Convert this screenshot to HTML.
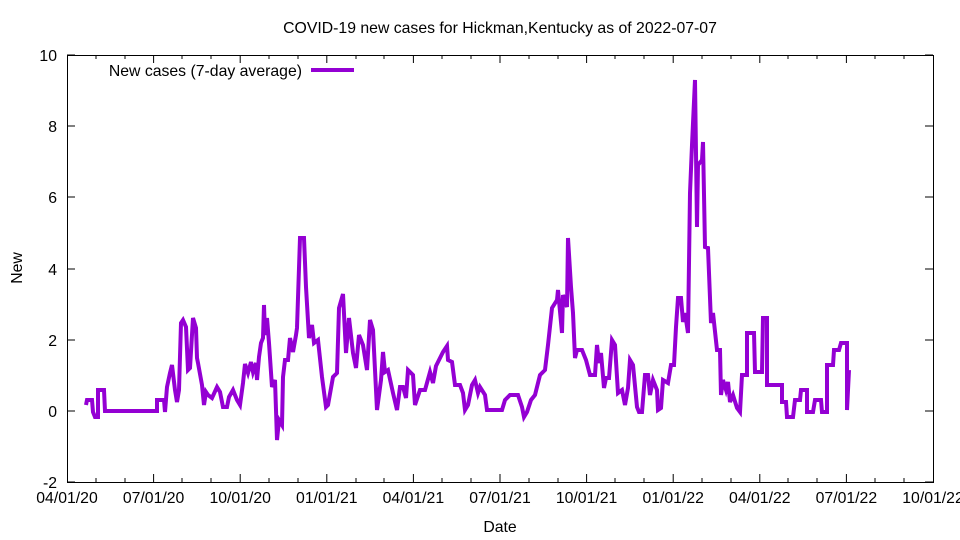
<!DOCTYPE html>
<html><head><meta charset="utf-8"><style>body{margin:0;background:#fff}svg{display:block}text{font-family:"Liberation Sans",sans-serif;font-size:15.8px;fill:#000}</style></head><body>
<svg width="960" height="540" xmlns="http://www.w3.org/2000/svg">
<rect width="960" height="540" fill="#fff"/>
<text x="500" y="33" text-anchor="middle">COVID-19 new cases for Hickman,Kentucky as of 2022-07-07</text>
<g stroke="#000" stroke-width="1" fill="none">
<rect x="67.5" y="55.5" width="866" height="427"/>
<path d="M67 411h8M925 411h8M67 340h8M925 340h8M67 269h8M925 269h8M67 197h8M925 197h8M67 126h8M925 126h8M67 482h8M925 482h8M67 55h8M925 55h8"/>
<path d="M153.6 482v-8M240.2 482v-8M326.8 482v-8M413.4 482v-8M500 482v-8M586.6 482v-8M673.2 482v-8M759.8 482v-8M846.4 482v-8M153.6 55v8M240.2 55v8M326.8 55v8M413.4 55v8M500 55v8M586.6 55v8M673.2 55v8M759.8 55v8M846.4 55v8"/>
<path d="M96 482v-4M125 482v-4M182 482v-4M211 482v-4M269 482v-4M298 482v-4M356 482v-4M384 482v-4M442 482v-4M471 482v-4M529 482v-4M558 482v-4M615 482v-4M644 482v-4M702 482v-4M731 482v-4M788 482v-4M817 482v-4M875 482v-4M904 482v-4M96 55v4M125 55v4M182 55v4M211 55v4M269 55v4M298 55v4M356 55v4M384 55v4M442 55v4M471 55v4M529 55v4M558 55v4M615 55v4M644 55v4M702 55v4M731 55v4M788 55v4M817 55v4M875 55v4M904 55v4"/>
</g>
<g text-anchor="end">
<text x="57" y="417">0</text><text x="57" y="346">2</text><text x="57" y="275">4</text><text x="57" y="203">6</text><text x="57" y="132">8</text><text x="57" y="61">10</text><text x="57" y="488">-2</text>
</g>
<g text-anchor="middle">
<text x="67" y="503">04/01/20</text><text x="153.6" y="503">07/01/20</text><text x="240.2" y="503">10/01/20</text><text x="326.8" y="503">01/01/21</text><text x="413.4" y="503">04/01/21</text><text x="500" y="503">07/01/21</text><text x="586.6" y="503">10/01/21</text><text x="673.2" y="503">01/01/22</text><text x="759.8" y="503">04/01/22</text><text x="846.4" y="503">07/01/22</text><text x="933" y="503">10/01/22</text>
<text x="500" y="532">Date</text>
</g>
<text x="0" y="0" text-anchor="middle" transform="translate(22,268) rotate(-90)">New</text>
<text x="302" y="76" text-anchor="end">New cases (7-day average)</text>
<line x1="311" y1="70" x2="354" y2="70" stroke="#9400d3" stroke-width="4"/>
<polyline fill="none" stroke="#9400d3" stroke-width="4" stroke-linejoin="miter" points="86,405 87,400 92,400 93,412 95,417 98,417 98,390 104,390 105,411 157,411 157,400 164,400 165,412 167,387 170,373 172,365 175,390 177,402 179,390 181,323 183,320 186,327 188,370 190,368 193,318 196,328 197,358 198,363 202,385 204,405 206,392 208,395 212,398 217,387 220,392 223,407 227,407 229,397 233,390 237,400 240,405 243,383 245,364 248,373 251,362 253,372 256,363 257,380 259,357 261,343 263,338 264,305 265,335 267,318 269,343 272,387 275,380 277,440 279,420 282,425 283,377 285,360 288,360 290,338 293,352 296,335 297,328 300,238 304,238 306,287 309,338 312,325 314,343 318,340 322,377 326,407 328,405 333,377 337,373 339,308 343,294 346,353 349,318 353,353 356,368 359,335 363,345 367,370 370,320 373,330 377,410 381,380 383,352 385,372 388,370 393,393 397,410 400,387 403,387 406,398 408,370 413,375 415,405 420,390 425,390 430,372 433,383 436,366 439,360 443,352 447,346 448,360 452,362 455,385 460,385 463,393 465,410 468,405 472,385 475,380 478,393 480,387 485,395 487,410 502,410 505,400 510,395 518,395 522,407 524,417 527,412 531,400 535,395 540,375 545,370 548,345 552,308 557,300 558,290 562,333 563,295 567,307 568,238 571,287 573,313 575,358 577,350 582,350 586,360 590,375 595,375 597,345 599,363 601,353 604,388 606,378 609,378 612,340 615,345 618,393 622,390 625,405 628,388 630,360 633,365 637,407 639,412 642,412 645,375 648,375 650,395 653,380 657,390 658,410 661,408 663,380 668,383 671,365 674,365 676,327 678,298 681,298 683,322 685,313 688,333 690,193 692,145 695,80 697,227 698,165 702,160 703,142 705,247 708,248 711,323 713,313 717,350 720,350 721,395 723,380 726,390 728,382 730,402 733,395 737,408 740,412 742,375 747,375 747,333 754,333 755,372 762,372 763,318 767,318 767,385 782,385 782,402 786,402 787,417 793,417 795,400 800,400 801,390 807,390 807,412 813,412 815,400 821,400 822,412 827,412 827,365 833,365 834,350 839,350 841,343 847,343 847,410 849,370"/>
</svg>
</body></html>
